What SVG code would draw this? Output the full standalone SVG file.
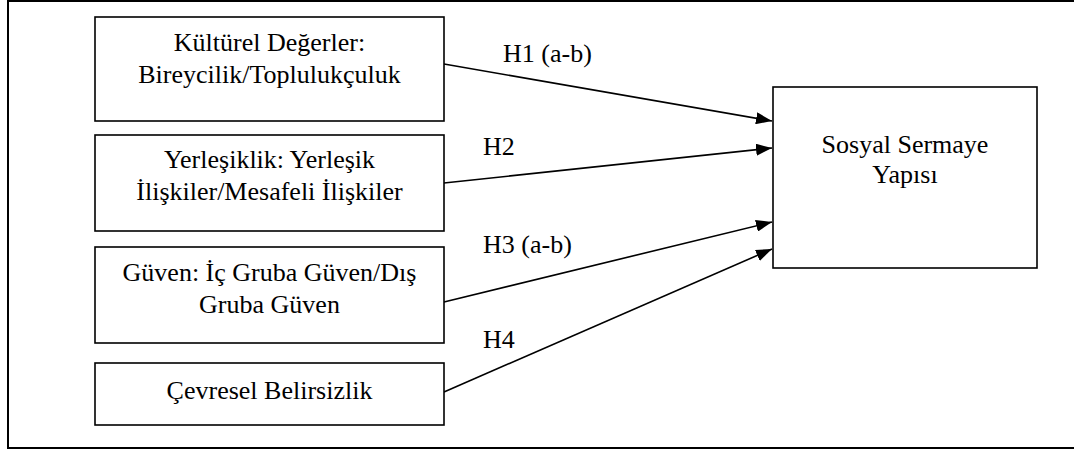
<svg xmlns="http://www.w3.org/2000/svg" width="1074" height="450" viewBox="0 0 1074 450">
<defs>
<style>
.box{fill:#fff;stroke:#000;stroke-width:1.6}
.frame{fill:none;stroke:#000;stroke-width:2}
.t{font-family:"Liberation Serif","Times New Roman",serif;font-size:26px;fill:#000;text-anchor:middle}
.lbl{font-family:"Liberation Serif","Times New Roman",serif;font-size:26px;fill:#000}
.conn{stroke:#000;stroke-width:1.6;fill:none;marker-end:url(#arr)}
</style>
<marker id="arr" viewBox="0 0 16 12" refX="16" refY="6" markerWidth="16" markerHeight="12" markerUnits="userSpaceOnUse" orient="auto">
<path d="M0,0 L16,6 L0,12 Z" fill="#000"/>
</marker>
</defs>
<rect class="frame" x="8" y="1" width="1070" height="447"/>
<g id="connectors">
<line class="conn" x1="444" y1="64" x2="772" y2="121"/>
<line class="conn" x1="444" y1="183" x2="772" y2="148"/>
<line class="conn" x1="444" y1="302" x2="772" y2="222"/>
<line class="conn" x1="444" y1="392" x2="772" y2="249"/>
<text class="lbl" x="503" y="62">H1 (a-b)</text>
<text class="lbl" x="483" y="155">H2</text>
<text class="lbl" x="483" y="253">H3 (a-b)</text>
<text class="lbl" x="483" y="348">H4</text>
</g>
<g id="kulturel">
<rect class="box" x="95" y="17" width="349" height="104"/>
<text class="t" x="269.5" y="51">Kültürel Değerler:</text>
<text class="t" x="269.5" y="83">Bireycilik/Toplulukçuluk</text>
</g>
<g id="yerlesiklik">
<rect class="box" x="95" y="135" width="349" height="96"/>
<text class="t" x="269.5" y="168">Yerleşiklik: Yerleşik</text>
<text class="t" x="269.5" y="200">İlişkiler/Mesafeli İlişkiler</text>
</g>
<g id="guven">
<rect class="box" x="95" y="247" width="349" height="96"/>
<text class="t" x="269.5" y="281">Güven: İç Gruba Güven/Dış</text>
<text class="t" x="269.5" y="313">Gruba Güven</text>
</g>
<g id="cevresel">
<rect class="box" x="95" y="363" width="349" height="62"/>
<text class="t" x="269.5" y="399">Çevresel Belirsizlik</text>
</g>
<g id="sosyal">
<rect class="box" x="773" y="87" width="264" height="181"/>
<text class="t" x="905" y="153">Sosyal Sermaye</text>
<text class="t" x="905" y="183">Yapısı</text>
</g>
</svg>
